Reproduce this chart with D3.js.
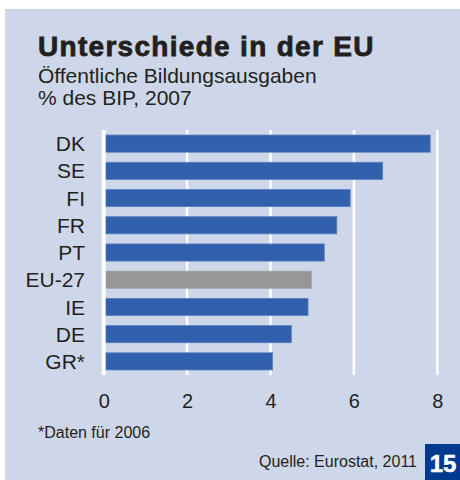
<!DOCTYPE html>
<html><head><meta charset="utf-8">
<script src="https://cdn.jsdelivr.net/npm/d3@7"></script>
<style>
html,body{margin:0;padding:0;background:#fff;}
svg{display:block;font-family:"Liberation Sans",Arial,sans-serif;}
</style></head>
<body>
<svg id="chart" width="460" height="480"></svg>
<script>
const categories = ["DK","SE","FI","FR","PT","EU-27","IE","DE","GR*"];
const values = [7.83,6.69,5.91,5.59,5.29,4.98,4.90,4.50,4.05];
const highlight = ["EU-27"];
const tickValues = [0,2,4,6,8];
const titleText = "Unterschiede in der EU";
const subtitleLines = ["Öffentliche Bildungsausgaben","% des BIP, 2007"];
const footnoteText = "*Daten für 2006";
const sourceText = "Quelle: Eurostat, 2011";
const pageNumber = "15";

const svg = d3.select("#chart");
const bg = "#cdd7e9", blue = "#3160ac", grey = "#979797", ink = "#231f20";

svg.append("rect").attr("x",5).attr("y",9).attr("width",455).attr("height",471).attr("fill",bg);

svg.append("text").attr("x",38).attr("y",56).text(titleText)
  .attr("font-size",28).attr("font-weight","bold").attr("fill",ink)
  .attr("stroke",ink).attr("stroke-width",0.8).attr("letter-spacing",1.3);
subtitleLines.forEach((t,i)=>{
  svg.append("text").attr("x",38).attr("y",83+i*22).text(t)
    .attr("font-size",21).attr("fill",ink);
});

const x = d3.scaleLinear().domain([0,8]).range([103.7,437.3]);
const y = d3.scaleBand().domain(categories).range([130,375]).paddingInner(0.37).paddingOuter(0.185);

// gridlines
svg.append("g").selectAll("line").data(tickValues.filter(d=>d>0)).join("line")
  .attr("x1",d=>x(d)).attr("x2",d=>x(d)).attr("y1",130).attr("y2",375)
  .attr("stroke","#fff").attr("stroke-width",2.5);

svg.append("g").selectAll("rect").data(categories).join("rect")
  .attr("x",x(0)).attr("y",d=>y(d))
  .attr("width",(d,i)=>x(values[i])-x(0)).attr("height",y.bandwidth())
  .attr("fill",d=>highlight.includes(d)?grey:blue)
  .attr("stroke",d=>highlight.includes(d)?"#a3a3a3":"#5a80c2").attr("stroke-width",0.8);

// zero line on top
svg.append("line").attr("x1",x(0)).attr("x2",x(0)).attr("y1",130).attr("y2",375)
  .attr("stroke","#fff").attr("stroke-width",4);

// category labels
const yAxis = d3.axisLeft(y).tickSize(0).tickPadding(0);
const gy = svg.append("g").attr("transform","translate(85,0)").call(yAxis);
gy.select(".domain").remove();
gy.selectAll("text").attr("font-size",21).attr("fill",ink)
  .attr("font-family","'Liberation Sans',Arial,sans-serif").attr("dy","0.36em");

// x ticks
const xAxis = d3.axisBottom(x).tickValues(tickValues).tickSize(0).tickPadding(0).tickFormat(d3.format("d"));
const gx = svg.append("g").attr("transform","translate(0,394)").call(xAxis);
gx.select(".domain").remove();
gx.selectAll("text").attr("font-size",20).attr("fill",ink)
  .attr("font-family","'Liberation Sans',Arial,sans-serif").attr("dy","0.71em");

svg.append("text").attr("x",38).attr("y",438).text(footnoteText).attr("font-size",16).attr("fill",ink);
svg.append("text").attr("x",417).attr("y",467).attr("text-anchor","end").text(sourceText).attr("font-size",16).attr("fill",ink);

svg.append("rect").attr("x",425).attr("y",444).attr("width",35).attr("height",36).attr("fill","#003a8e");
svg.append("text").attr("x",443).attr("y",472).attr("text-anchor","middle").text(pageNumber)
  .attr("font-size",24).attr("font-weight","bold").attr("fill","#fff")
  .attr("stroke","#fff").attr("stroke-width",0.5);
</script>
</body></html>
